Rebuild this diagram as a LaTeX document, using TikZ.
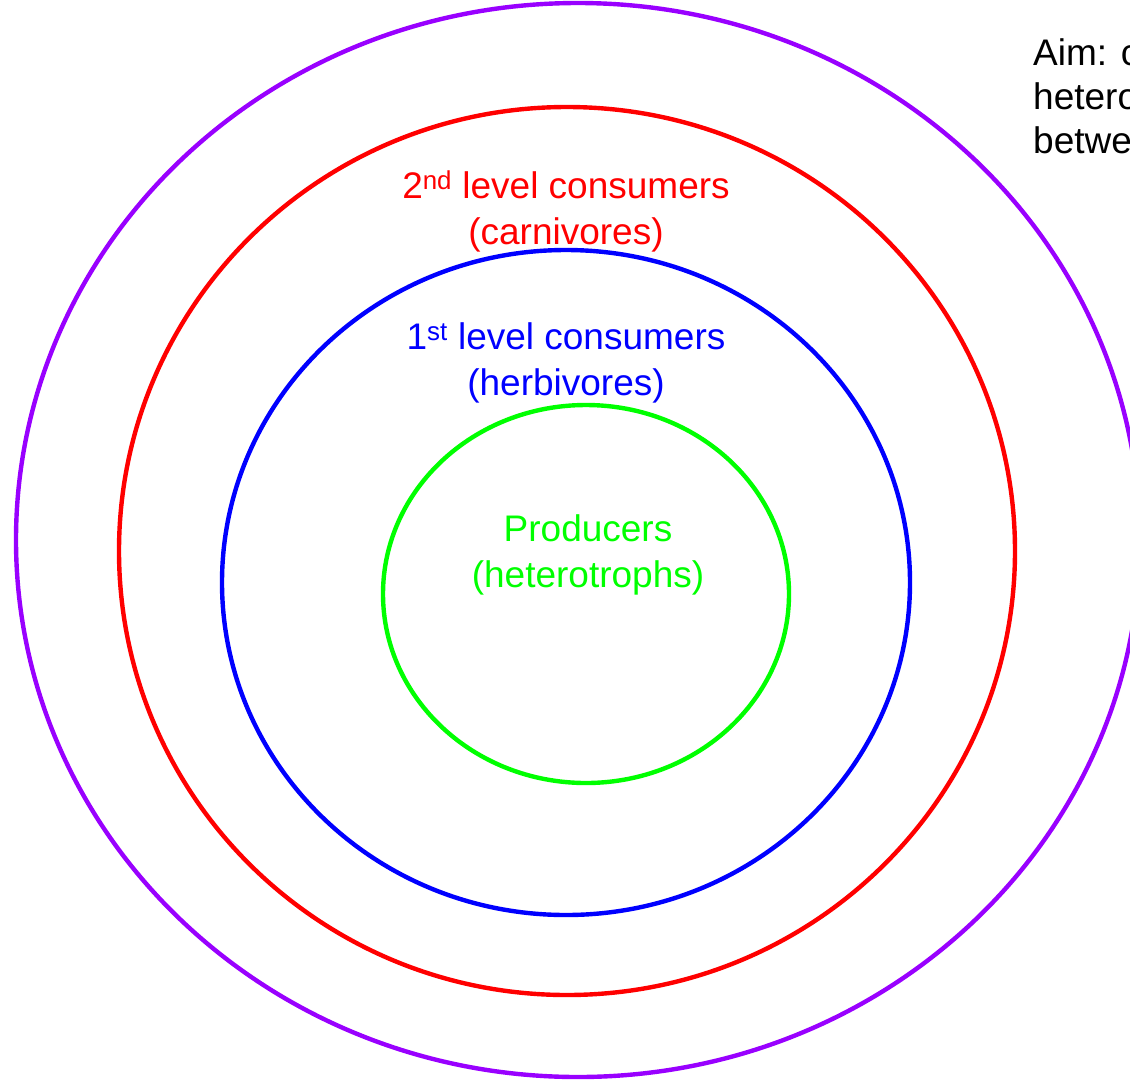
\documentclass[tikz,border=0pt]{standalone}
\usepackage{fontspec}
\setmainfont{Liberation Sans}
\definecolor{ringpurple}{HTML}{9900FF}
\definecolor{ringred}{HTML}{FF0000}
\definecolor{ringblue}{HTML}{0000FF}
\definecolor{ringgreen}{HTML}{00FF00}
\tikzset{
  ring/.style={line width=4.4pt},
  lbl/.style={font=\fontsize{37}{46}\selectfont, align=center, inner sep=0pt},
  aim/.style={font=\fontsize{37}{44}\selectfont, align=left, inner sep=0pt, anchor=north west}
}
\begin{document}
\begin{tikzpicture}[x=1pt,y=-1pt]
\clip (0,0) rectangle (1130,1080);
\fill[white] (0,0) rectangle (1130,1080);
\draw[ring, ringpurple] (578,540) ellipse [x radius=562, y radius=537];
\draw[ring, ringred] (567,551) ellipse [x radius=448, y radius=444];
\draw[ring, ringblue] (566,582.5) ellipse [x radius=344, y radius=332.5];
\draw[ring, ringgreen] (586,594) ellipse [x radius=203, y radius=189];
\node[lbl, text=ringred] (second) at (566,211) {2\textsuperscript{nd} level consumers\\(carnivores)};
\node[lbl, text=ringblue] (first) at (566,363) {1\textsuperscript{st} level consumers\\(herbivores)};
\node[lbl, text=ringgreen] (prod) at (588,555) {Producers\\(heterotrophs)};
\node[aim] (aimtext) at (1033,38) {Aim: c\\hetero\\betwe};
\end{tikzpicture}
\end{document}
